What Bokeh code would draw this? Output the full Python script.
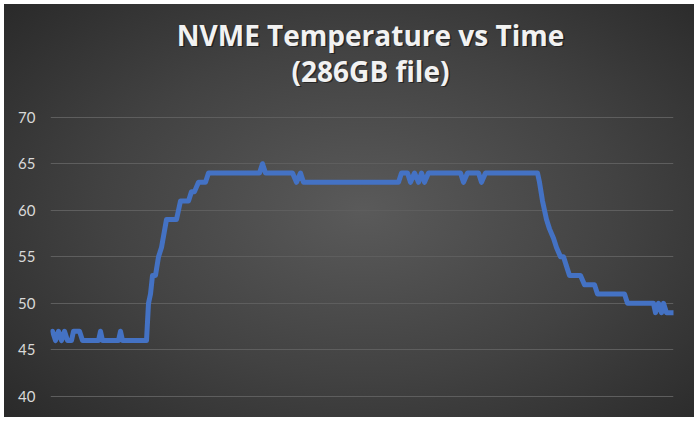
from bokeh.plotting import figure
from bokeh.models import Range1d, Label, FixedTicker
from bokeh.embed import file_html
from bokeh.resources import INLINE

# ---- data (time in arbitrary sample units, temperature in °C) ----
time = [0, 3, 6, 9, 12, 15, 19, 21, 27, 30, 46, 48, 50, 66, 68, 70, 94,
        96, 98, 100, 103, 106, 109, 114, 124, 128, 136, 139, 142, 146, 153,
        156, 207, 210, 213, 240, 244, 248, 251, 346, 349, 355, 358, 362,
        366, 369, 372, 376, 408, 411, 415, 426, 429, 433, 485, 487, 490,
        494, 497, 501, 504, 508, 511, 514, 517, 528, 532, 542, 545, 572,
        575, 601, 603, 606, 609, 611, 614, 621]
temp = [47, 46, 47, 46, 47, 46, 46, 47, 47, 46, 46, 47, 46, 46, 47, 46, 46,
        50, 51, 53, 53, 55, 56, 59, 59, 61, 61, 62, 62, 63, 63,
        64, 64, 65, 64, 64, 63, 64, 63, 63, 64, 64, 63, 64,
        63, 64, 63, 64, 64, 63, 64, 64, 63, 64, 64, 63, 61,
        59, 58, 57, 56, 55, 55, 54, 53, 53, 52, 52, 51, 51,
        50, 50, 49, 50, 49, 50, 49, 49]
title_lines = ["NVME Temperature vs Time", "(286GB file)"]
y_ticks = [40, 45, 50, 55, 60, 65, 70]

W, H = 690, 413
# frame spans full height; extra room above/below the 40..70 band holds the title
p = figure(width=W, height=H, output_backend="svg", toolbar_location=None,
           x_range=Range1d(-2, 621), y_range=Range1d(37.74, 82.1),
           min_border_left=46, min_border_right=21, min_border_top=0,
           min_border_bottom=0, title=None)

p.styles = {"margin": "4px",
            "background": "radial-gradient(ellipse 75% 80% at 52% 50%, #5a5a5a 0%, #424242 50%, #262626 100%)"}
p.background_fill_color = None
p.border_fill_color = None
p.outline_line_color = None

p.xaxis.visible = False
p.xgrid.grid_line_color = None
p.yaxis.ticker = FixedTicker(ticks=y_ticks)
p.ygrid.ticker = FixedTicker(ticks=y_ticks)
p.ygrid.grid_line_color = "#5e5e5e"
p.ygrid.grid_line_width = 1
p.yaxis.axis_line_color = None
p.yaxis.major_tick_line_color = None
p.yaxis.minor_tick_line_color = None
p.yaxis.major_tick_in = 0
p.yaxis.major_tick_out = 0
p.yaxis.major_label_standoff = 15
p.yaxis.major_label_text_font = "Lato"
p.yaxis.major_label_text_font_size = "15px"
p.yaxis.major_label_text_color = "#d9d9d9"

p.line(time, temp, line_color="#4472C4", line_width=5,
       line_join="round", line_cap="round")

# title (two lines), with a subtle shadow
cx = 318
for txt, yy in zip(title_lines, [78.85, 75.0]):
    p.add_layout(Label(x=cx, y=yy, text=txt, text_align="center",
                       text_baseline="middle", text_font="Open Sans",
                       text_font_style="bold", text_font_size="28px",
                       text_color="#000000", text_alpha=0.45,
                       x_offset=1.5, y_offset=-1.5))
    p.add_layout(Label(x=cx, y=yy, text=txt, text_align="center",
                       text_baseline="middle", text_font="Open Sans",
                       text_font_style="bold", text_font_size="28px",
                       text_color="#f2f2f2"))

open("out.html", "w").write(file_html(p, INLINE))
